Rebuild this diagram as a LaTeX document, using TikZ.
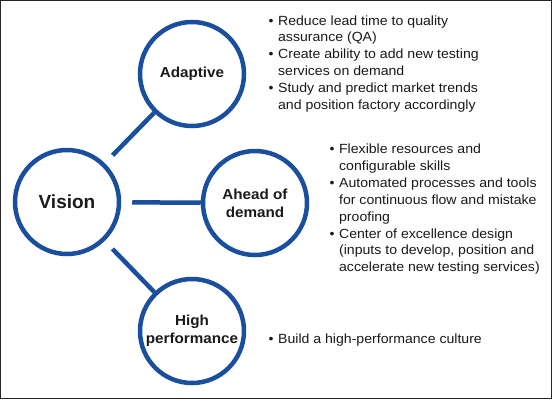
\documentclass[tikz,border=0pt]{standalone}
\usepackage{fontspec}
\setmainfont{Liberation Sans}
\newfontfamily\widefont[FakeStretch=1.06]{Liberation Sans}
\newfontfamily\widebold[FakeStretch=1.05]{Liberation Sans Bold}
\definecolor{ringblue}{HTML}{1A4E9E}
\definecolor{txt}{HTML}{1A1A1A}
\tikzset{
  ring/.style={circle, draw=ringblue, line width=4.5pt, minimum size=104pt, inner sep=0pt, align=center, text=txt, font=\widebold\fontsize{14.5}{18}\selectfont},
  link/.style={draw=ringblue, line width=4.5pt, shorten <=11pt},
  bullets/.style={anchor=base west, inner sep=0pt, text=txt, font=\widefont\fontsize{13.3}{16.9}\selectfont}
}
\newcommand{\bl}{\textbullet}
\begin{document}
\begin{tikzpicture}[x=1pt,y=-1pt]
\draw[black!85, line width=1.2pt, fill=white] (0.8,0.8) rectangle (551.2,398.6);
\useasboundingbox (0,0) rectangle (552,400);
\node[ring, font=\bfseries\fontsize{19}{22}\selectfont] (vision) at (67,202) {Vision};
\node[ring] (adaptive) at (192,74) {\raisebox{-3pt}{Adaptive}};
\node[ring] (ahead) at (255,203) {Ahead of\\demand};
\node[ring] (high) at (192,331) {High\\performance};
\draw[link] (vision) -- (adaptive);
\draw[link] (vision) -- (ahead);
\draw[link] (vision) -- (high);
\node[bullets] (l1) at (268.5,25) {\begin{tabular}[t]{@{}l@{\hspace{4.5pt}}l@{}}
\bl & Reduce lead time to quality\\
 & assurance (QA)\\
\bl & Create ability to add new testing\\
 & services on demand\\
\bl & Study and predict market trends\\
 & and position factory accordingly
\end{tabular}};
\node[bullets] (l2) at (329.5,153.5) {\begin{tabular}[t]{@{}l@{\hspace{4.5pt}}l@{}}
\bl & Flexible resources and\\
 & configurable skills\\
\bl & Automated processes and tools\\
 & for continuous flow and mistake\\
 & proofing\\
\bl & Center of excellence design\\
 & (inputs to develop, position and\\
 & accelerate new testing services)
\end{tabular}};
\node[bullets] (l3) at (268.5,343) {\begin{tabular}[t]{@{}l@{\hspace{4.5pt}}l@{}}
\bl & Build a high-performance culture
\end{tabular}};
\end{tikzpicture}
\end{document}
